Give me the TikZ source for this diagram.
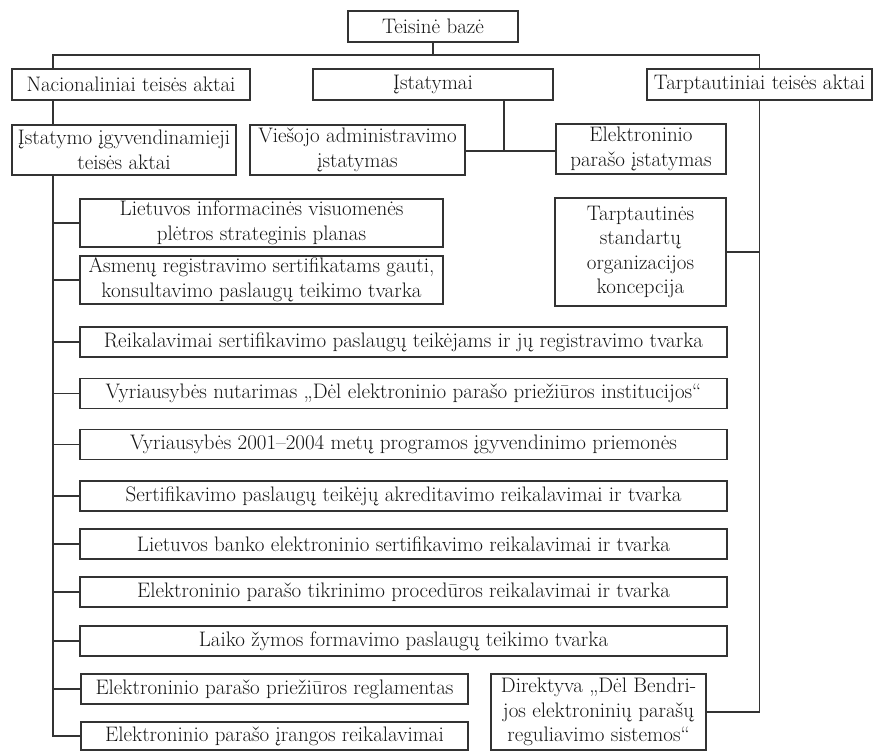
\documentclass[tikz,border=0pt]{standalone}
\usepackage{fontspec}
\begin{document}
\begin{tikzpicture}[x=1pt,y=-1pt,
  every node/.style={font=\fontsize{21}{24.5}\selectfont, text=black!92},
  box/.style={draw=black!80, line width=1.4pt, rectangle, inner sep=0pt, align=center},
  link/.style={draw=black!80, line width=1.4pt},
  wide/.style={box, minimum width=647pt, minimum height=30pt}]
\useasboundingbox (0,0) rectangle (880,751);

% top levels
\node[box, minimum width=170pt, minimum height=31pt] (root) at (433,26.5) {Teisinė bazė};
\node[box, minimum width=238pt, minimum height=31pt] (nat) at (131,84.5) {Nacionaliniai teisės aktai};
\node[box, minimum width=240pt, minimum height=31pt] (ist) at (433,84.5) {Įstatymai};
\node[box, minimum width=225pt, minimum height=31pt] (tarpt) at (759.5,84.5) {Tarptautiniai teisės aktai};

% laws
\node[box, minimum width=224pt, minimum height=50pt] (isti) at (124,150) {Įstatymo įgyvendinamieji\\teisės aktai};
\node[box, minimum width=215pt, minimum height=50pt] (vies) at (357.5,150) {Viešojo administravimo\\įstatymas};
\node[box, minimum width=170pt, minimum height=50pt] (elpi) at (641,149) {Elektroninio\\parašo įstatymas};

% international
\node[box, minimum width=171pt, minimum height=108pt] (tso) at (640.5,252) {Tarptautinės\\standartų\\organizacijos\\koncepcija};
\node[box, minimum width=215pt, minimum height=76pt] (dir) at (598.5,712) {Direktyva „Dėl Bendri-\\jos elektroninių parašų\\reguliavimo sistemos“};

% implementing acts
\node[box, minimum width=363pt, minimum height=48pt] (b1) at (261.5,223) {Lietuvos informacinės visuomenės\\plėtros strateginis planas};
\node[box, minimum width=363pt, minimum height=48pt] (b2) at (261.5,280) {Asmenų registravimo sertifikatams gauti,\\konsultavimo paslaugų teikimo tvarka};
\node[wide] (b3) at (403.5,342) {Reikalavimai sertifikavimo paslaugų teikėjams ir jų registravimo tvarka};
\node[wide] (b4) at (403.5,393.5) {Vyriausybės nutarimas „Dėl elektroninio parašo priežiūros institucijos“};
\node[wide] (b5) at (403.5,444.5) {Vyriausybės 2001--2004 metų programos įgyvendinimo priemonės};
\node[wide] (b6) at (403.5,496) {Sertifikavimo paslaugų teikėjų akreditavimo reikalavimai ir tvarka};
\node[wide] (b7) at (403.5,544) {Lietuvos banko elektroninio sertifikavimo reikalavimai ir tvarka};
\node[wide] (b8) at (403.5,592) {Elektroninio parašo tikrinimo procedūros reikalavimai ir tvarka};
\node[wide] (b9) at (403.5,641) {Laiko žymos formavimo paslaugų teikimo tvarka};
\node[box, minimum width=387pt, minimum height=30pt] (b10) at (274.5,689) {Elektroninio parašo priežiūros reglamentas};
\node[box, minimum width=387pt, minimum height=28pt] (b11) at (274.5,736) {Elektroninio parašo įrangos reikalavimai};

% connectors
\coordinate (lbus) at (53,55);
\coordinate (ij) at (504,151);
\draw[link] (root.south) -- (root.south |- lbus);
\draw[link] (nat.north -| lbus) -- (lbus) -- (lbus -| tarpt.north) -- (tarpt.north);
\draw[link] (nat.south -| lbus) -- (isti.north -| lbus);
\draw[link] (isti.south -| lbus) |- (b11.west);
\foreach \n in {b1,b2,b3,b4,b5,b6,b7,b8,b9,b10}
  \draw[link] (\n.west) -- (\n.west -| lbus);
\draw[link] (ist.south -| ij) -- (ij);
\draw[link] (vies.east |- ij) -- (elpi.west |- ij);
\draw[link] (tarpt.south) |- (dir.east);
\draw[link] (tso.east) -- (tso.east -| tarpt.south);
\end{tikzpicture}
\end{document}
